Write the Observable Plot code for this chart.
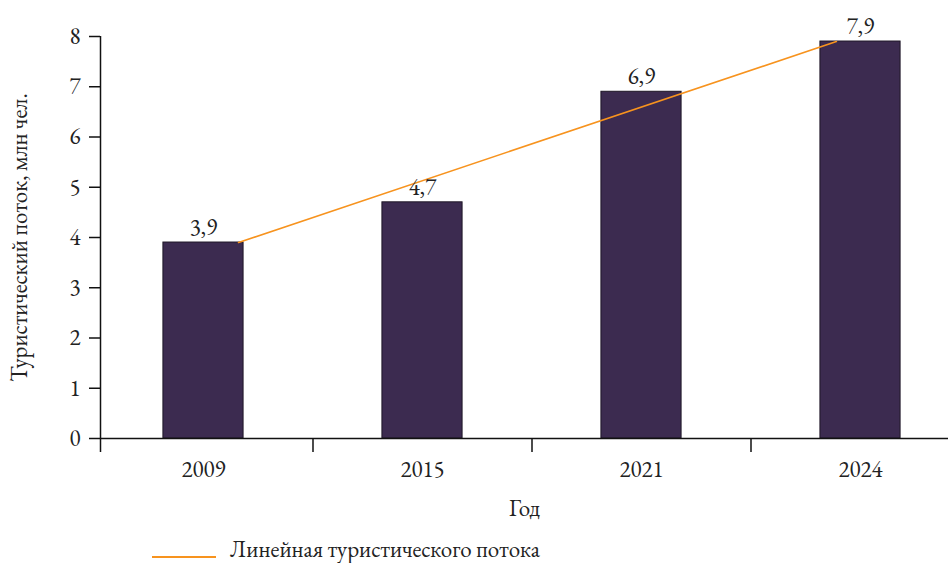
<!DOCTYPE html>
<html>
<head>
<meta charset="utf-8">
<script src="https://cdn.jsdelivr.net/npm/d3@7"></script>
<script src="https://cdn.jsdelivr.net/npm/@observablehq/plot@0.6"></script>
<style>
  body { margin: 0; background: #fff; font-family: 'EB Garamond', 'Liberation Serif', serif; }
  #chart svg, #chart svg text { font-family: 'EB Garamond', 'Liberation Serif', serif !important; font-variant-numeric: lining-nums; }
  #legend { position: relative; height: 38px; width: 948px; font-size: 23px; color: #222; font-family: 'EB Garamond', 'Liberation Serif', serif; }
  #legend .sw { position: absolute; left: 152px; top: 31px; width: 64px; height: 1.5px; background: #f7931e; }
  #legend .lb { position: absolute; left: 230px; top: 13px; line-height: 22px; }
</style>
</head>
<body>
<div id="chart"></div>
<div id="legend"><div class="sw"></div><div class="lb">Линейная туристического потока</div></div>
<script>
const years = ["2009", "2015", "2021", "2024"];
const values = [3.9, 4.7, 6.9, 7.9];
const yTicks = [0, 1, 2, 3, 4, 5, 6, 7, 8];
// trend line endpoints (in category-index units and values)
const trendIdx = [0.16, 2.89];
const trendVal = [3.9, 7.9];

const data = years.map((y, i) => ({i, year: y, value: values[i]}));
const trend = trendIdx.map((t, k) => ({i: t, value: trendVal[k]}));

const xmin = -0.4703, xmax = 3.4018;
const half = 0.183;

const chart = Plot.plot({
  width: 948,
  height: 525,
  marginLeft: 100,
  marginRight: 0,
  marginTop: 36,
  marginBottom: 87,
  style: {fontSize: "23px", color: "#222", background: "#fff"},
  x: {type: "linear", domain: [xmin, xmax]},
  y: {domain: [0, 8]},
  marks: [
    Plot.rectY(data, {x1: d => d.i - half, x2: d => d.i + half, y1: 0, y2: "value", fill: "#3c2b50", stroke: "#1e1626", strokeWidth: 1}),
    Plot.line(trend, {x: "i", y: "value", stroke: "#f7931e", strokeWidth: 1.6}),
    Plot.text(data, {x: "i", y: "value", text: d => String(d.value).replace(".", ","), dy: -15, fontSize: 23, fill: "#222"}),
    Plot.ruleY([0], {stroke: "#111", strokeWidth: 1.5}),
    Plot.ruleX([xmin], {y1: 0, y2: 8, stroke: "#111", strokeWidth: 1.5}),
    Plot.axisY({ticks: yTicks, tickSize: 11, tickPadding: 9, stroke: "#111", strokeWidth: 1.5,
      label: "Туристический поток, млн чел.", labelAnchor: "center", labelArrow: "none", labelOffset: 90, fontSize: 23}),
    Plot.axisX({ticks: [xmin, 0.5, 1.5, 2.5], tickSize: 14, tickFormat: () => "", stroke: "#111", strokeWidth: 1.5, label: null}),
    Plot.axisX({ticks: [0, 1, 2, 3], tickSize: 0, tickPadding: 22, tickFormat: i => years[i], fontSize: 23,
      label: "Год", labelAnchor: "center", labelArrow: "none", labelOffset: 77})
  ]
});
document.getElementById("chart").appendChild(chart);
</script>
</body>
</html>
